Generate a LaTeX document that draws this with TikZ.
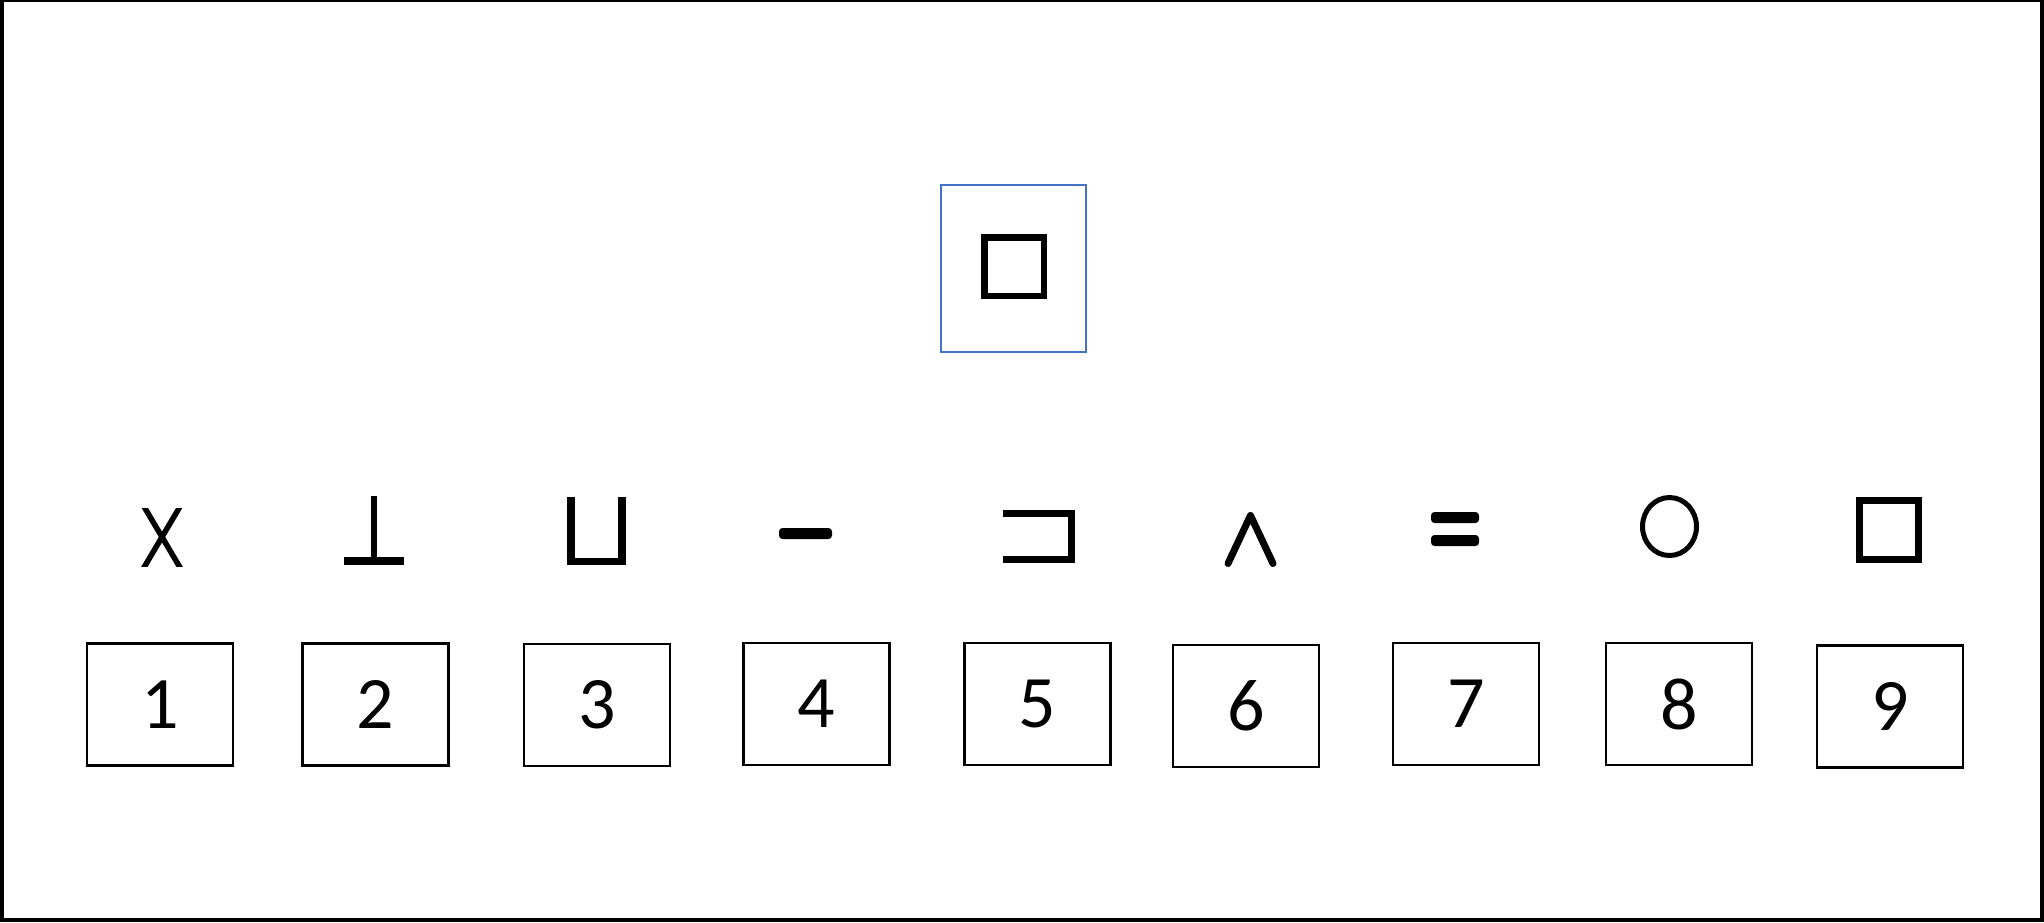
\documentclass[tikz,border=0pt]{standalone}
\usepackage{fontspec}
\setmainfont{Carlito}
\definecolor{officeblue}{HTML}{4472C4}
\tikzset{
  numbox/.style={draw=black, line width=2.3pt, minimum width=146pt, minimum height=122pt, inner sep=0pt, font=\fontsize{74}{80}\selectfont},
  targetbox/.style={draw=officeblue, line width=2pt, minimum width=145pt, minimum height=167pt, inner sep=0pt},
  glyph/.style={fill=black},
  glyphline/.style={draw=black, line width=#1}
}
\begin{document}
\begin{tikzpicture}[x=1pt,y=-1pt]
\useasboundingbox (0,0) rectangle (2044,922);
% frame
\fill[black] (0,0) rectangle (2044,922);
\fill[white] (4,1.5) rectangle (2040,918);
% target
\node[targetbox] (target) at (1013.5,268.5) {};
\draw[glyphline=6.5pt] (984.25,237.25) rectangle (1043.75,295.75);
% symbols
% 1: X
\begin{scope}
\clip (130,508) rectangle (195,566);
\draw[glyphline=5.5pt] (142.5,504) -- (181.5,570);
\draw[glyphline=5.5pt] (181.5,504) -- (142.5,570);
\end{scope}
% 2: inverted T
\fill[glyph] (371,496) rectangle (377,560);
\fill[glyph] (344,557) rectangle (404,565);
% 3: cup
\fill[glyph] (567,497) rectangle (575,565);
\fill[glyph] (618,497) rectangle (626,565);
\fill[glyph] (567,558) rectangle (626,565);
% 4: dash
\fill[glyph, rounded corners=3.5pt] (779,528) rectangle (832,539);
% 5: reversed C
\fill[glyph] (1003,510) rectangle (1075,517);
\fill[glyph] (1068,510) rectangle (1075,563);
\fill[glyph] (1003,556) rectangle (1075,563);
% 6: wedge
\draw[glyphline=7pt, line cap=round, line join=round] (1228,563.5) -- (1250.5,515.5) -- (1273,563.5);
% 7: equals
\fill[glyph, rounded corners=3.5pt] (1431,512) rectangle (1479,523);
\fill[glyph, rounded corners=3.5pt] (1431,535) rectangle (1479,546);
% 8: O
\draw[glyphline=5pt] (1669.5,526.5) ellipse [x radius=27pt, y radius=29pt];
% 9: square
\draw[glyphline=6.7pt] (1859.35,500.35) rectangle (1918.65,559.65);
% number boxes
\node[numbox] (b1) at (160,704.5) {1};
\node[numbox] (b2) at (375.5,704.5) {2};
\node[numbox] (b3) at (597,705) {3};
\node[numbox] (b4) at (816.5,704) {4};
\node[numbox] (b5) at (1037.5,704) {5};
\node[numbox] (b6) at (1246,706) {6};
\node[numbox] (b7) at (1466,704) {7};
\node[numbox] (b8) at (1679,704) {8};
\node[numbox] (b9) at (1890,706.5) {9};
\end{tikzpicture}
\end{document}
